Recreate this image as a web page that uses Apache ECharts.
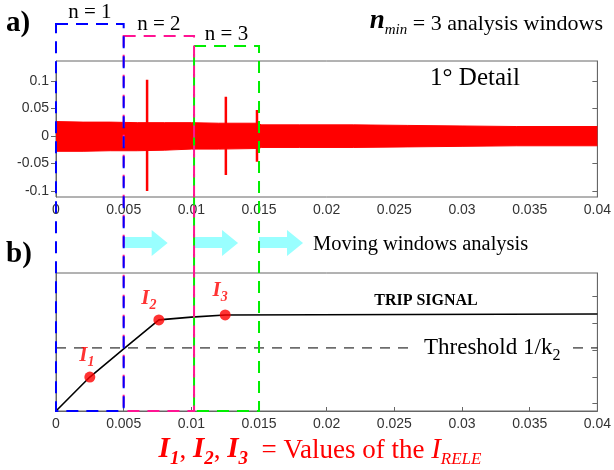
<!DOCTYPE html>
<html>
<head>
<meta charset="utf-8">
<script src="https://cdn.jsdelivr.net/npm/echarts@6/dist/echarts.min.js"></script>
<style>html,body{margin:0;padding:0;background:#fff}#c{width:614px;height:470px}</style>
</head>
<body>
<div id="c"></div>
<script>
// ---- data ----
const envX     = [0, 0.002, 0.004, 0.006, 0.008, 0.010, 0.012, 0.0148, 0.0152, 0.018, 0.022, 0.026, 0.030, 0.034, 0.040];
const envUpper = [0.026, 0.025, 0.025, 0.024, 0.024, 0.024, 0.023, 0.023, 0.020, 0.020, 0.020, 0.019, 0.018, 0.017, 0.017];
const envLower = [-0.028, -0.028, -0.027, -0.027, -0.026, -0.024, -0.024, -0.023, -0.021, -0.021, -0.021, -0.020, -0.019, -0.018, -0.018];
const spikeX      = [0.00673, 0.01255, 0.01485];
const spikeTop    = [0.102, 0.071, 0.047];
const spikeBottom = [-0.100, -0.071, -0.047];
const yTicksA = [-0.1, -0.05, 0, 0.05, 0.1];

const curveX = [0, 0.0025, 0.005, 0.0076, 0.010, 0.0125, 0.040];
const curveY = [0, 0.246, 0.45, 0.66, 0.68, 0.696, 0.703];
const pointX = [0.0025, 0.0076, 0.0125];
const pointY = [0.246, 0.66, 0.696];
const pointNames = ['1', '2', '3'];
const threshold = 0.457;
const thresholdGap = [0.0262, 0.0382];
const yTicksB = [0.058, 0.246, 0.442, 0.638, 0.833];

const winStart = [0, 0.005, 0.0102];
const winEnd   = [0.005, 0.0102, 0.015];
const winLabels = ['n = 1', 'n = 2', 'n = 3'];
const arrowStart = [0.005, 0.0102, 0.015];

// ---- chart ----
const serif = 'Liberation Serif';
const sans = 'Liberation Sans';
const axisGray = '#666';
const chart = echarts.init(document.getElementById('c'), null, {renderer: 'canvas'});

function xAxisDef(gi) {
  return {
    gridIndex: gi, type: 'value', min: 0, max: 0.04, interval: 0.005,
    axisLine: {lineStyle: {color: axisGray}},
    axisTick: {inside: true, length: 4, lineStyle: {color: axisGray}},
    axisLabel: {fontFamily: sans, fontSize: 14, color: '#333', margin: 6},
    splitLine: {show: false}
  };
}
const pairs = (xs, ys) => xs.map((x, i) => [x, ys[i]]);

const series = [
  {type: 'line', xAxisIndex: 0, yAxisIndex: 0, data: pairs(envX, envUpper), showSymbol: false,
   lineStyle: {color: '#ff0000', width: 1}, areaStyle: {color: '#ff0000', opacity: 1, origin: 'auto'}, z: 2},
  {type: 'line', xAxisIndex: 0, yAxisIndex: 0, data: pairs(envX, envLower), showSymbol: false,
   lineStyle: {color: '#ff0000', width: 1}, areaStyle: {color: '#ff0000', opacity: 1, origin: 'auto'}, z: 2}
];
spikeX.forEach((x, i) => {
  series.push({type: 'line', xAxisIndex: 0, yAxisIndex: 0, data: [[x, spikeTop[i]], [x, spikeBottom[i]]],
    showSymbol: false, lineStyle: {color: '#ff0000', width: 2.5}, z: 3});
});
series.push({type: 'line', xAxisIndex: 1, yAxisIndex: 2, data: pairs(curveX, curveY), showSymbol: false,
  lineStyle: {color: '#000', width: 1.6}, z: 3});
series.push({type: 'line', xAxisIndex: 1, yAxisIndex: 2, data: [[0, threshold], [thresholdGap[0], threshold]],
  showSymbol: false, lineStyle: {color: '#000', width: 1, type: [10, 8]}, z: 2});
series.push({type: 'line', xAxisIndex: 1, yAxisIndex: 2, data: [[thresholdGap[1], threshold], [0.04, threshold]],
  showSymbol: false, lineStyle: {color: '#000', width: 1, type: [10, 8]}, z: 2});
const labelOffsets = [[-3, 0], [-10, 0], [-5, -3]];
series.push({type: 'scatter', xAxisIndex: 1, yAxisIndex: 2, symbolSize: 11, itemStyle: {color: '#ff0000'}, z: 5,
  data: pointX.map((x, i) => ({value: [x, pointY[i]],
    label: {show: true, position: 'top', distance: 2, offset: labelOffsets[i],
      formatter: '{a|I}{b|' + pointNames[i] + '}',
      rich: {
        a: {fontFamily: serif, fontStyle: 'italic', fontWeight: 'bold', fontSize: 21, color: '#ff0000', verticalAlign: 'bottom', padding: [0, 0, 3, 0]},
        b: {fontFamily: serif, fontStyle: 'italic', fontWeight: 'bold', fontSize: 14, color: '#ff0000', verticalAlign: 'bottom'}
      }}}))});

chart.setOption({
  animation: false,
  grid: [
    {left: 56, top: 61, width: 545, height: 136, show: true, borderColor: axisGray, borderWidth: 1},
    {left: 56, top: 273, width: 545, height: 138, show: true, borderColor: axisGray, borderWidth: 1}
  ],
  xAxis: [xAxisDef(0), xAxisDef(1)],
  yAxis: [
    {gridIndex: 0, type: 'value', min: -0.111, max: 0.136,
     axisLine: {show: true, lineStyle: {color: axisGray}},
     axisTick: {show: true, length: 5, customValues: yTicksA, lineStyle: {color: axisGray}},
     axisLabel: {customValues: yTicksA, fontFamily: sans, fontSize: 14, color: '#333', margin: 7},
     splitLine: {show: false}},
    {gridIndex: 0, type: 'value', position: 'right', min: -0.111, max: 0.136,
     axisLine: {show: true, lineStyle: {color: axisGray}},
     axisTick: {show: true, inside: true, length: 5, customValues: yTicksA, lineStyle: {color: axisGray}},
     axisLabel: {show: false}, splitLine: {show: false}},
    {gridIndex: 1, type: 'value', min: 0, max: 1,
     axisLine: {show: true, lineStyle: {color: axisGray}},
     axisTick: {show: false}, axisLabel: {show: false}, splitLine: {show: false}},
    {gridIndex: 1, type: 'value', position: 'right', min: 0, max: 1,
     axisLine: {show: true, lineStyle: {color: axisGray}},
     axisTick: {show: true, inside: true, length: 5, customValues: yTicksB, lineStyle: {color: axisGray}},
     axisLabel: {show: false}, splitLine: {show: false}}
  ],
  series: series
});

// ---- annotations placed through the axes' scales ----
const px = (x) => chart.convertToPixel({gridIndex: 1}, [x, 0])[0];
const bottomY = chart.convertToPixel({gridIndex: 1}, [0, 0])[1];
const winColors = ['#0000ff', '#ff1493', '#00ee00'];
const winTops = [24, 36, 46];
const graphic = [];
// draw order: green, magenta, blue
[2, 1, 0].forEach(i => {
  const x0 = px(winStart[i]), x1 = px(winEnd[i]);
  graphic.push({type: 'rect', z: 100, shape: {x: x0, y: winTops[i], width: x1 - x0, height: bottomY - winTops[i]},
    style: {fill: 'none', stroke: winColors[i], lineWidth: 2, lineDash: [12, 8]}});
  graphic.push({type: 'text', z: 101, x: (x0 + x1) / 2, y: winTops[i] - 12,
    style: {text: winLabels[i], fontFamily: serif, fontSize: 21, fill: '#000', align: 'center', verticalAlign: 'middle'}});
});
arrowStart.forEach(s => {
  const x0 = px(s);
  graphic.push({type: 'polygon', z: 99, shape: {points: [[x0, 237], [x0 + 28, 237], [x0 + 28, 230], [x0 + 44, 243],
    [x0 + 28, 256], [x0 + 28, 248], [x0, 248]]}, style: {fill: '#99ffff'}});
});
graphic.push(
  {type: 'text', z: 101, x: 6, y: 24, style: {text: 'a)', fontFamily: serif, fontWeight: 'bold', fontSize: 29, fill: '#000', verticalAlign: 'middle'}},
  {type: 'text', z: 101, x: 6, y: 255, style: {text: 'b)', fontFamily: serif, fontWeight: 'bold', fontSize: 29, fill: '#000', verticalAlign: 'middle'}},
  {type: 'text', z: 101, x: 603, y: 23, style: {text: '{n|n}{m|min}{t| = 3 analysis windows}', align: 'right', verticalAlign: 'middle',
    rich: {
      n: {fontFamily: serif, fontStyle: 'italic', fontWeight: 'bold', fontSize: 27, fill: '#000', verticalAlign: 'bottom', padding: [0, 0, 3, 0]},
      m: {fontFamily: serif, fontStyle: 'italic', fontSize: 15, fill: '#000', verticalAlign: 'bottom'},
      t: {fontFamily: serif, fontSize: 22, fill: '#000', verticalAlign: 'bottom', padding: [0, 0, 3, 0]}
    }}},
  {type: 'text', z: 101, x: 475, y: 78, style: {text: '1° Detail', fontFamily: serif, fontSize: 25, fill: '#000', align: 'center', verticalAlign: 'middle'}},
  {type: 'text', z: 101, x: 313, y: 245, style: {text: 'Moving windows analysis', fontFamily: serif, fontSize: 20.5, fill: '#000', verticalAlign: 'middle'}},
  {type: 'text', z: 101, x: 426, y: 301, style: {text: 'TRIP SIGNAL', fontFamily: serif, fontWeight: 'bold', fontSize: 16, fill: '#000', align: 'center', verticalAlign: 'middle'}},
  {type: 'text', z: 101, x: 424, y: 350, style: {text: '{t|Threshold 1/k}{s|2}', verticalAlign: 'middle',
    rich: {
      t: {fontFamily: serif, fontSize: 23, fill: '#000', verticalAlign: 'bottom', padding: [0, 0, 4, 0]},
      s: {fontFamily: serif, fontSize: 16, fill: '#000', verticalAlign: 'bottom'}
    }}},
  {type: 'text', z: 101, x: 320, y: 452, style: {
    text: '{i|I}{s|1}{t|, }{i|I}{s|2}{t|, }{i|I}{s|3}{t|  = Values of the }{j|I}{r|RELE}', align: 'center', verticalAlign: 'middle',
    rich: {
      i: {fontFamily: serif, fontStyle: 'italic', fontWeight: 'bold', fontSize: 29, fill: '#ff0000', verticalAlign: 'bottom', padding: [0, 0, 4, 0]},
      s: {fontFamily: serif, fontStyle: 'italic', fontWeight: 'bold', fontSize: 19, fill: '#ff0000', verticalAlign: 'bottom'},
      t: {fontFamily: serif, fontSize: 27, fill: '#ff0000', verticalAlign: 'bottom', padding: [0, 0, 4, 0]},
      j: {fontFamily: serif, fontStyle: 'italic', fontSize: 29, fill: '#ff0000', verticalAlign: 'bottom', padding: [0, 0, 4, 0]},
      r: {fontFamily: serif, fontStyle: 'italic', fontSize: 17, fill: '#ff0000', verticalAlign: 'bottom'}
    }}}
);
chart.setOption({graphic: graphic});
</script>
</body>
</html>
